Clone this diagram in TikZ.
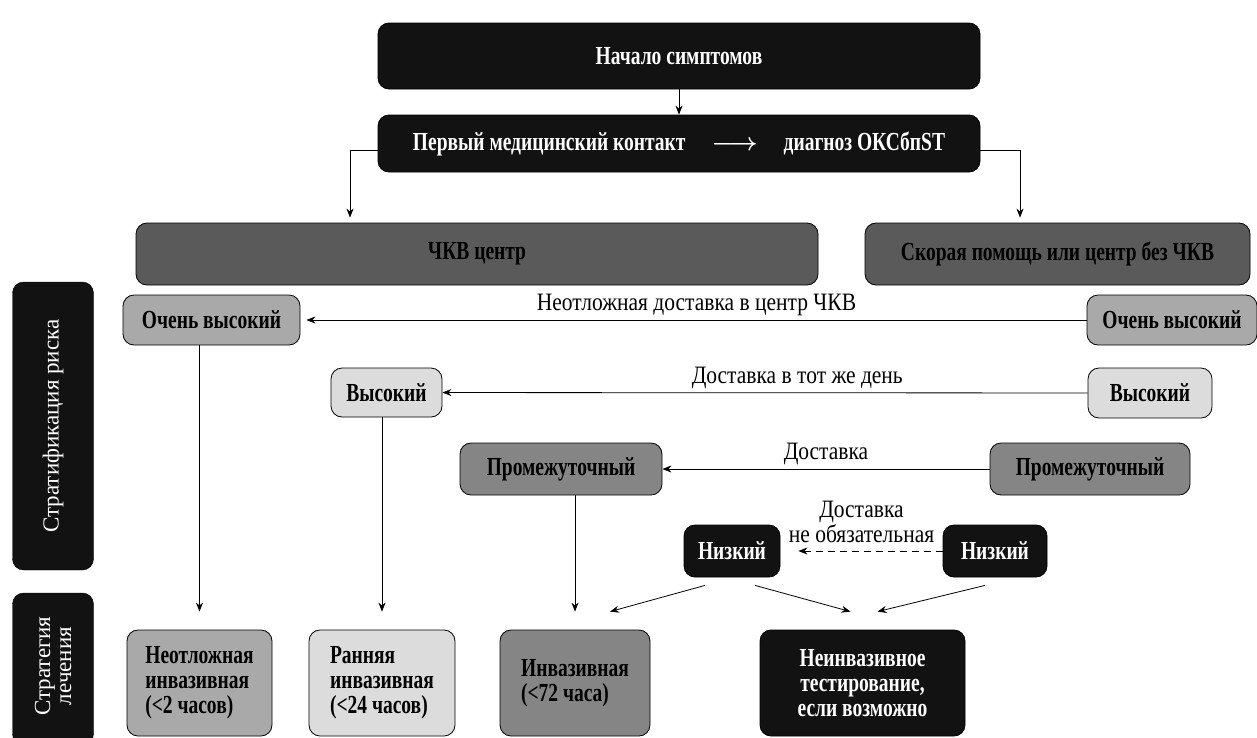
\documentclass[tikz,border=0pt]{standalone}
\usepackage{fontspec}
\setmainfont[FakeStretch=0.75]{Liberation Serif}
\newfontfamily\labelfont[FakeStretch=0.86]{Liberation Serif}
\newfontfamily\sidefont{Liberation Serif}
\usetikzlibrary{arrows.meta}
\definecolor{boxblack}{HTML}{121212}
\definecolor{boxdark}{HTML}{5A5A5A}
\definecolor{boxmid}{HTML}{858585}
\definecolor{boxlight}{HTML}{A9A9A9}
\definecolor{boxpale}{HTML}{DCDCDC}

\begin{document}
\begin{tikzpicture}[
    x=1pt, y=-1pt,
    >={Stealth[length=9pt,width=7pt]},
    riskbox/.style={
      rectangle, rounded corners=11pt,
      draw=black, line width=0.8pt,
      font=\fontsize{26}{25}\selectfont\bfseries,
      inner sep=2pt,
    },
    blackbox/.style={riskbox, fill=boxblack, text=white},
    darkbox/.style={riskbox, fill=boxdark, text=black},
    midbox/.style={riskbox, fill=boxmid, text=black},
    lightbox/.style={riskbox, fill=boxlight, text=black},
    palebox/.style={riskbox, fill=boxpale, text=black},
    sidebar/.style={
      rectangle, rounded corners=11pt, fill=boxblack, draw=black,
      minimum width=81pt, inner sep=0pt,
    },
    sidetext/.style={rotate=90, text=white, align=center,
      font=\sidefont\fontsize{23}{21}\selectfont},
    wire/.style={draw=black, line width=0.8pt},
    annot/.style={font=\labelfont\fontsize{25}{22}\selectfont, align=center},
  ]
  \useasboundingbox (0,0) rectangle (1257,737);

  % ================================================================
  %  TOP  ---  onset -> first contact -> centres
  % ================================================================
  \node[blackbox, minimum width=602pt, minimum height=66pt] (onset)
    at (679, 56) {Начало симптомов};
  \node[blackbox, minimum width=602pt, minimum height=57pt] (contact)
    at (679, 143.5) {Первый медицинский контакт\quad{\boldmath$\longrightarrow$}\quad диагноз ОКСбпST};
  \draw[wire, ->] (onset.south) -- (contact.north);

  \node[darkbox, minimum width=682pt, minimum height=62pt] (pci)
    at (477, 254) {ЧКВ центр};
  \node[darkbox, minimum width=385pt, minimum height=62pt] (nopci)
    at (1057.5, 254) {Скорая помощь или центр без ЧКВ};

  \coordinate (lbend) at (350, 150);
  \coordinate (rbend) at (1020, 150);
  \draw[wire, ->] (contact.west |- lbend) -- (lbend) -- ([yshift=5pt]lbend |- pci.north);
  \draw[wire, ->] (contact.east |- rbend) -- (rbend) -- ([yshift=5pt]rbend |- nopci.north);

  % ================================================================
  %  SIDE LABELS
  % ================================================================
  \node[sidebar, minimum height=288pt] (strat) at (53, 426) {};
  \node[sidetext] at (strat.center) {Стратификация риска};
  \node[sidebar, minimum height=152pt] (treat) at (53, 669) {};
  \node[sidetext] at (53, 666) {Стратегия\\лечения};

  % ================================================================
  %  RISK LEVELS  ---  PCI centre (left) / no PCI (right)
  % ================================================================
  \node[lightbox, minimum width=177pt, minimum height=50pt] (vhighL) at (211.5, 320) {Очень высокий};
  \node[lightbox, minimum width=170pt, minimum height=50pt] (vhighR) at (1172, 320) {Очень высокий};
  \node[palebox, minimum width=111pt, minimum height=49pt] (highL) at (386.5, 392.5) {Высокий};
  \node[palebox, minimum width=124pt, minimum height=50pt] (highR) at (1150, 393) {Высокий};
  \node[midbox, minimum width=202pt, minimum height=52pt] (midL) at (561, 469) {Промежуточный};
  \node[midbox, minimum width=200pt, minimum height=52pt] (midR) at (1090, 469) {Промежуточный};
  \node[blackbox, minimum width=96pt, minimum height=52pt] (lowL) at (732, 551) {Низкий};
  \node[blackbox, minimum width=104pt, minimum height=52pt] (lowR) at (995, 551) {Низкий};

  \draw[wire, ->] (vhighR) -- ([xshift=6pt]vhighL.east)
    node[annot, midway, above=0pt] {Неотложная доставка в центр ЧКВ};
  \draw[wire, ->] (highR) -- (highL)
    node[annot, pos=0.45, above=0pt] {Доставка в тот же день};
  \draw[wire, ->] (midR) -- (midL)
    node[annot, midway, above=0pt] {Доставка};
  \draw[wire, ->, dash pattern=on 7pt off 5pt, shorten >=18pt] (lowR) -- (lowL)
    node[annot, midway, above=5pt] {Доставка\\не обязательная};

  % ================================================================
  %  TREATMENT STRATEGY
  % ================================================================
  \node[lightbox, minimum width=145pt, minimum height=106pt, align=left] (urgent)
    at (199.5, 683) {Неотложная\\инвазивная\\(<2 часов)};
  \node[palebox, minimum width=146pt, minimum height=106pt, align=left] (early)
    at (382, 683) {Ранняя\\инвазивная\\(<24 часов)};
  \node[midbox, minimum width=150pt, minimum height=106pt, align=left] (invas)
    at (575, 683) {Инвазивная\\(<72 часа)};
  \node[blackbox, minimum width=205pt, minimum height=106pt, align=center] (noninv)
    at (862.5, 683) {Неинвазивное\\тестирование,\\если возможно};

  \draw[wire, ->] (urgent.north |- vhighL.south) -- ([yshift=18pt]urgent.north);
  \draw[wire, ->] (early.north |- highL.south) -- ([yshift=18pt]early.north);
  \draw[wire, ->] (invas.north |- midL.south) -- ([yshift=18pt]invas.north);

  \draw[wire, ->] ([xshift=-27pt,yshift=-8pt]lowL.south) -- ([xshift=35pt,yshift=18pt]invas.north);
  \draw[wire, ->] ([xshift=23pt,yshift=-8pt]lowL.south) -- ([xshift=-12pt,yshift=18pt]noninv.north);
  \draw[wire, ->] ([xshift=-10pt,yshift=-8pt]lowR.south) -- ([xshift=15pt,yshift=18pt]noninv.north);

\end{tikzpicture}
\end{document}
